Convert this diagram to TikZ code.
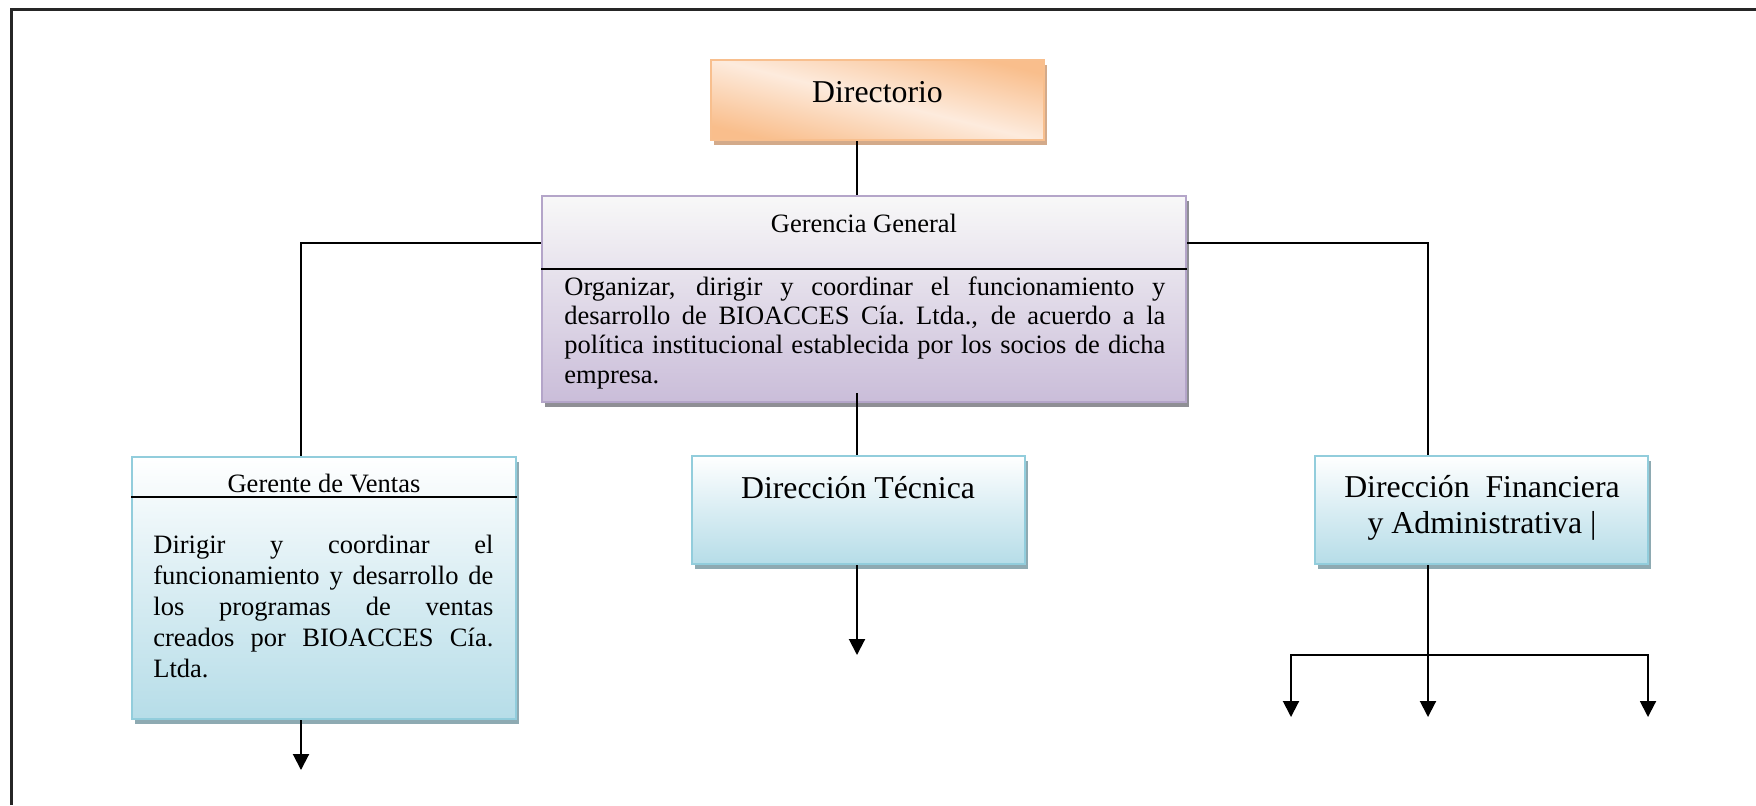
\documentclass[tikz,border=0pt]{standalone}
\usepackage{fontspec}
\setmainfont{Liberation Serif}
\usetikzlibrary{arrows.meta,shadows}

\definecolor{orD}{HTML}{F9BE8C}
\definecolor{orL}{HTML}{FDEBDD}
\definecolor{orB}{HTML}{F8BF8E}
\definecolor{orS}{HTML}{D3AA8A}
\definecolor{lvT}{HTML}{F8F8F8}
\definecolor{lvB}{HTML}{CABDD9}
\definecolor{lvE}{HTML}{B4A5C9}
\definecolor{lvS}{HTML}{8F8F95}
\definecolor{blB}{HTML}{B6DDE8}
\definecolor{blM}{HTML}{D9EDF3}
\definecolor{blE}{HTML}{92CDDC}
\definecolor{blS}{HTML}{8EAAB2}

% one justified line of a fixed-width text block
\newcommand\jline[1]{\hbox to\linewidth{\spaceskip=.25em plus 1fil minus .08em\xspaceskip=\spaceskip #1}}

\begin{document}
\begin{tikzpicture}[x=0.5pt,y=-0.5pt,
  box/.style={rectangle, inner sep=0pt, line width=1pt,
    general shadow={fill=#1, shadow xshift=1.5pt, shadow yshift=-2.5pt}},
  orbox/.style={box=orS, draw=orB, top color=orD, bottom color=orD, middle color=orL, shading angle=-14},
  lvbox/.style={box=lvS, draw=lvE, top color=lvT, bottom color=lvB},
  blbox/.style={box=blS, draw=blE, top color=white, bottom color=blB, middle color=blM},
  tbig/.style={font=\fontsize{15.9pt}{18pt}\selectfont, inner sep=0pt},
  tsmall/.style={font=\fontsize{13.25pt}{15pt}\selectfont, inner sep=0pt},
  conn/.style={line width=1pt, line join=miter},
  arr/.style={conn, -{Triangle[width=8pt,length=8pt]}},
  rule/.style={line width=1pt}]

\useasboundingbox (0,0) rectangle (1756,805);

% page frame
\draw[line width=1.5pt, black!85] (11,805) -- (11,9) -- (1756,9);

% connector columns
\coordinate (spine) at (857,0);
\coordinate (lx) at (301,0);
\coordinate (rx) at (1428,0);

% Directorio
\node[orbox, minimum width=166.5pt, minimum height=40pt] (dir) at (877.5,100) {};
\node[tbig, anchor=base] (dirt) at (877.5,102) {Directorio};

% Gerencia General
\node[lvbox, minimum width=322pt, minimum height=103pt] (gg) at (864,299) {};
\draw[rule] (gg.west |- 0,269) -- (gg.east |- 0,269);
\node[tsmall, anchor=base] (ggt) at (864,232) {Gerencia General};
\node[tsmall, anchor=base west] (ggb) at (564,295) {\parbox[t]{300.5pt}{%
  \fontsize{13.25pt}{14.7pt}\selectfont
  \jline{Organizar, dirigir y coordinar el funcionamiento y}
  \jline{desarrollo de BIOACCES Cía. Ltda., de acuerdo a la}
  \jline{política institucional establecida por los socios de dicha}
  \hbox{empresa.}}};

% Gerente de Ventas
\node[blbox, minimum width=192pt, minimum height=131pt] (gv) at (324,588) {};
\draw[rule] (gv.west |- 0,497) -- (gv.east |- 0,497);
\node[tsmall, anchor=base] (gvt) at (324,492) {Gerente de Ventas};
\node[tsmall, anchor=base west] (gvb) at (153,553) {\parbox[t]{170pt}{%
  \fontsize{13.25pt}{15.5pt}\selectfont
  \jline{Dirigir y coordinar el}
  \jline{funcionamiento y desarrollo de}
  \jline{los programas de ventas}
  \jline{creados por BIOACCES Cía.}
  \hbox{Ltda.}}};

% Dirección Técnica
\node[blbox, minimum width=166.5pt, minimum height=54pt] (dt) at (858.5,510) {};
\node[tbig, anchor=base] (dtt) at (858,498) {Dirección Técnica};

% Dirección Financiera y Administrativa
\node[blbox, minimum width=166.5pt, minimum height=54pt] (dfa) at (1481.5,510) {};
\node[tbig, anchor=base] (dfat) at (1482,497) {\parbox[t]{160pt}{\centering
  \fontsize{15.9pt}{18pt}\selectfont
  Dirección\ \ Financiera\\ y Administrativa |}};

% free arrow ends
\coordinate (gvtip) at (301,770);
\coordinate (dttip) at (857,655);
\coordinate (br) at (1428,655);
\coordinate (fa1) at (1291,717);
\coordinate (fa2) at (1428,717);
\coordinate (fa3) at (1648,717);

% connectors
\draw[conn] (dir.south -| spine) -- (gg.north -| spine);
\draw[conn] (gg.west |- 0,243) -| (gv.north -| lx);
\draw[conn] (gg.east |- 0,243) -| (dfa.north -| rx);
\draw[conn] ([yshift=5pt]gg.south -| spine) -- (dt.north -| spine);
\draw[arr] (gv.south -| lx) -- (gvtip);
\draw[arr] (dt.south -| spine) -- (dttip);
\draw[conn] (dfa.south -| rx) -- (br);
\draw[arr] (br) -- (fa2);
\draw[arr] (br) -| (fa1);
\draw[arr] (br) -| (fa3);
\end{tikzpicture}
\end{document}
